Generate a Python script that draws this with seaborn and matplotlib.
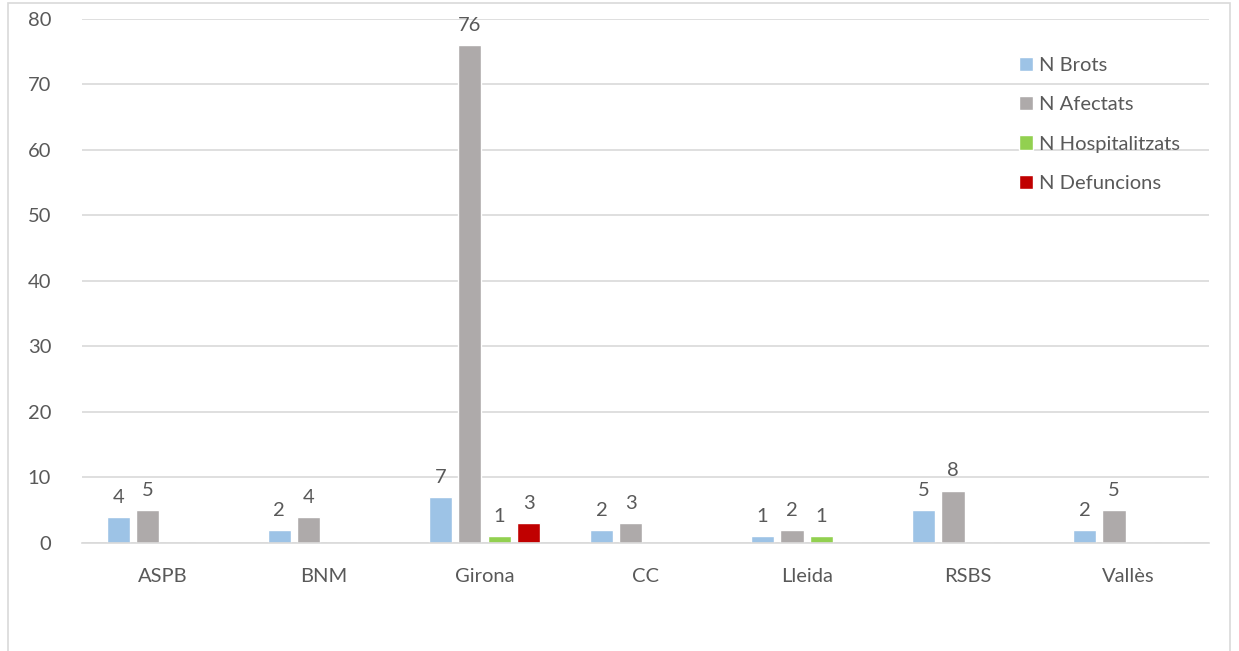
import pandas as pd
import numpy as np
import matplotlib
matplotlib.use("Agg")
import matplotlib.pyplot as plt
import seaborn as sns
from matplotlib.patches import Rectangle

# --- dades ---
regions = ['ASPB', 'BNM', 'Girona', 'CC', 'Lleida', 'RSBS', 'Vallès']
n_brots = [4, 2, 7, 2, 1, 5, 2]
n_afectats = [5, 4, 76, 3, 2, 8, 5]
n_hospitalitzats = [0, 0, 1, 0, 1, 0, 0]
n_defuncions = [0, 0, 3, 0, 0, 0, 0]
series = ['N Brots', 'N Afectats', 'N Hospitalitzats', 'N Defuncions']
colors = ['#9DC3E6', '#AEAAAA', '#92D050', '#C00000']

df = pd.DataFrame({
    'Regio': regions,
    'N Brots': n_brots,
    'N Afectats': n_afectats,
    'N Hospitalitzats': n_hospitalitzats,
    'N Defuncions': n_defuncions,
})
df_long = df.melt(id_vars='Regio', var_name='Serie', value_name='Valor')

sns.set_style("white")
plt.rcParams['font.family'] = ['Lato', 'DejaVu Sans']
TXT = '#595959'
GRID = '#D9D9D9'
FS = 14.5

fig = plt.figure(figsize=(12.39, 6.51), dpi=100)
ax = fig.add_axes([0.066, 0.166, 0.910, 0.805])

sns.barplot(data=df_long, x='Regio', y='Valor', hue='Serie', hue_order=series,
            palette=colors, width=0.73, gap=0.21, ax=ax, saturation=1, legend=True)

# etiquetes de dades (sense zeros)
for cont in ax.containers:
    labels = [f'{v:.0f}' if v > 0 else '' for v in cont.datavalues]
    ax.bar_label(cont, labels=labels, padding=8, fontsize=FS, color=TXT)

ax.set_ylim(0, 80)
ax.set_yticks(range(0, 81, 10))
ax.yaxis.grid(True, color=GRID, linewidth=1.2)
ax.set_axisbelow(True)
for s in ['top', 'right', 'left']:
    ax.spines[s].set_visible(False)
ax.spines['bottom'].set_color(GRID)
ax.spines['bottom'].set_linewidth(1.2)
ax.tick_params(axis='both', length=0, labelsize=FS, labelcolor=TXT)
ax.tick_params(axis='x', pad=18)
ax.tick_params(axis='y', pad=22)
ax.set_xlabel('')
ax.set_ylabel('')

leg = ax.legend(loc='upper right', bbox_to_anchor=(0.99, 0.962), frameon=False,
                fontsize=FS, labelspacing=1.1, handlelength=0.7, handleheight=0.7,
                handletextpad=0.3)
for t in leg.get_texts():
    t.set_color(TXT)

# marc del gràfic
fig.patches.append(Rectangle((8 / 1239, -0.1), (1230 - 8) / 1239, 1.1 - 3 / 651,
                             transform=fig.transFigure, fill=False,
                             edgecolor=GRID, linewidth=1.2))

plt.savefig('out.png', dpi=100)
